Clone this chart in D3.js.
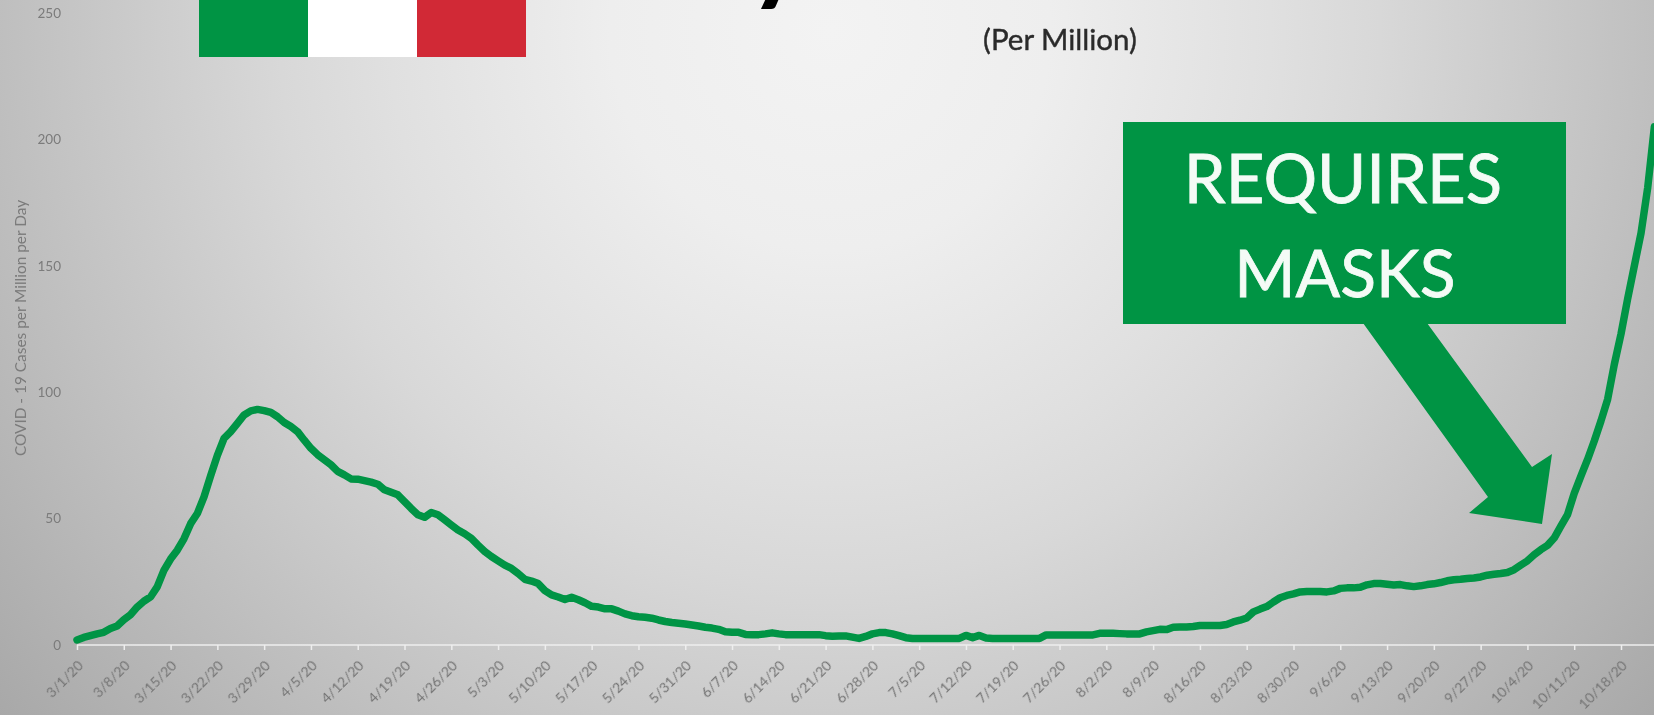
<!DOCTYPE html>
<html>
<head>
<meta charset="utf-8">
<script src="https://cdn.jsdelivr.net/npm/d3@7"></script>
<style>
  html, body { margin: 0; padding: 0; overflow: hidden; background: #ccc; }
  text { font-family: Lato, "Open Sans", sans-serif; }
</style>
</head>
<body>
<div id="chart"></div>
<script>
// tick labels, one every 7 days starting 3/1/20
var weekLabels = ["3/1/20","3/8/20","3/15/20","3/22/20","3/29/20","4/5/20","4/12/20","4/19/20","4/26/20",
  "5/3/20","5/10/20","5/17/20","5/24/20","5/31/20","6/7/20","6/14/20","6/21/20","6/28/20","7/5/20",
  "7/12/20","7/19/20","7/26/20","8/2/20","8/9/20","8/16/20","8/23/20","8/30/20","9/6/20","9/13/20",
  "9/20/20","9/27/20","10/4/20","10/11/20","10/18/20"]
var yTicks = [0, 50, 100, 150, 200, 250]

// daily cases per million
var marchValues = [2,3,3.7,4.4,5,6.5,7.5,10,12,15,17.3,19,23,29.5,34,37.5,42,48,52,58.6,67,75,81.7,84.4,87.7,91,92.6,93.2,92.7,92,90.3]
var aprilValues = [88,86.4,84.4,81,77.8,75.3,73.3,71.3,68.7,67.3,65.7,65.6,65,64.4,63.6,61.4,60.4,59.4,56.7,54,51.5,50.5,52.4,51.5,49.5,47.5,45.5,44,42.2,39.5]
var mayValues = [37,35,33.3,31.6,30.3,28.3,26,25.3,24.3,21.5,19.8,19,18,18.9,17.9,16.7,15.3,15,14.3,14.3,13.4,12.3,11.6,11.2,11,10.6,9.9,9.3,8.9,8.6,8.3]
var juneValues = [7.9,7.5,7,6.7,6.2,5.2,5,5,4.2,4.1,4.1,4.4,4.8,4.4,4.1,4.1,4.1,4.1,4.1,4.1,3.7,3.5,3.6,3.6,3.1,2.6,3.4,4.4,4.9,4.9]
var julyValues = [4.4,3.7,2.9,2.6,2.6,2.6,2.6,2.6,2.6,2.6,2.6,3.8,2.9,3.8,2.8,2.6,2.6,2.6,2.6,2.6,2.6,2.6,2.6,4,4,4,4,4,4,4,4]
var augustValues = [4.6,4.6,4.6,4.5,4.4,4.4,4.4,5.2,5.7,6.2,6.1,7,7.1,7.1,7.3,7.7,7.7,7.7,7.7,8.1,9.1,9.8,10.7,13.1,14.2,15.2,17,18.7,19.6,20.2,21]
var septemberValues = [21.2,21.2,21.2,21,21.4,22.4,22.6,22.6,22.8,23.8,24.3,24.3,24,23.7,23.9,23.4,23.1,23.4,23.9,24.2,24.7,25.4,25.8,26,26.3,26.5,26.9,27.6,28,28.3]
var octoberValues = [28.7,29.8,31.6,33.3,35.7,37.7,39.4,42.3,47,51.6,60,66.8,73.4,80.7,88.6,97.2,111,123,137,150,163,181,205]
var caseValues = [].concat(marchValues, aprilValues, mayValues, juneValues, julyValues, augustValues, septemberValues, octoberValues)

var width = 1654, height = 715
var green = "#009444"

var svg = d3.select("#chart").append("svg")
  .attr("width", width)
  .attr("height", height)
  .style("display", "block")

// slide background
var defs = svg.append("defs")
var grad = defs.append("radialGradient")
  .attr("id", "bg")
  .attr("gradientUnits", "userSpaceOnUse")
  .attr("cx", 830).attr("cy", 30).attr("r", 1100)
;[[0,"#f3f3f3"],[0.2,"#eeeeee"],[0.4,"#e0e0e0"],[0.5,"#d8d8d8"],[0.6,"#cecece"],[0.75,"#bfbfbf"],[1,"#a6a6a6"]].forEach(function(s){
  grad.append("stop").attr("offset", s[0]).attr("stop-color", s[1])
})
defs.append("filter").attr("id", "soft").append("feGaussianBlur").attr("stdDeviation", 0.45)

svg.append("rect").attr("width", width).attr("height", height).attr("fill", "url(#bg)")

var x = d3.scaleLinear().domain([0, 231]).range([77, 1621])
var y = d3.scaleLinear().domain([0, 250]).range([645, 13])

// Y axis
var yAxis = svg.append("g")
  .attr("transform", "translate(77,0)")
  .attr("filter", "url(#soft)")
  .call(d3.axisLeft(y).tickValues(yTicks).tickSize(0).tickPadding(16))
yAxis.select(".domain").remove()
yAxis.selectAll("text")
  .attr("fill", "#7b7b7b")
  .style("font-size", "13.5px")

// X axis
var xAxis = svg.append("g")
  .attr("transform", "translate(0,645)")
  .call(d3.axisBottom(x)
    .tickValues(weekLabels.map(function(d, i){ return i * 7 }))
    .tickFormat(function(d){ return weekLabels[d / 7] })
    .tickSize(5)
    .tickSizeOuter(0))
xAxis.select(".domain")
  .attr("d", "M77,0H1654")
  .attr("stroke", "#eeeeee")
  .attr("stroke-width", 1.5)
xAxis.selectAll("line").attr("stroke", "#eeeeee").attr("stroke-width", 1.5)
xAxis.selectAll("text")
  .attr("fill", "#747474")
  .attr("filter", "url(#soft)")
  .style("font-size", "14px")
  .attr("text-anchor", "end")
  .attr("transform", "translate(3,18) rotate(-45)")
  .attr("x", 0).attr("y", 0).attr("dy", "0.35em")

// Y axis title
svg.append("text")
  .attr("transform", "translate(26,328) rotate(-90)")
  .attr("text-anchor", "middle")
  .attr("fill", "#7b7b7b")
  .attr("filter", "url(#soft)")
  .style("font-size", "15.4px")
  .text("COVID - 19 Cases per Million per Day")

// case line
var line = d3.line()
  .x(function(d, i){ return x(i) })
  .y(function(d){ return y(d) })

svg.append("path")
  .datum(caseValues)
  .attr("d", line)
  .attr("fill", "none")
  .attr("stroke", green)
  .attr("stroke-width", 7.5)
  .attr("stroke-linejoin", "round")
  .attr("stroke-linecap", "round")
  .attr("filter", "url(#soft)")

// flag
var flagColors = [green, "#ffffff", "#d12936"]
svg.selectAll(".flag").data(flagColors).enter().append("rect")
  .attr("class", "flag")
  .attr("x", function(d, i){ return 199 + i * 109 })
  .attr("y", 0)
  .attr("width", 109)
  .attr("height", 57)
  .attr("fill", function(d){ return d })

// tail of the title, cut off by the top edge
svg.append("text")
  .attr("x", 750).attr("y", -8)
  .attr("font-weight", 900)
  .style("font-size", "100px")
  .attr("fill", "#000")
  .text("y")

svg.append("text")
  .attr("x", 1060).attr("y", 50)
  .attr("text-anchor", "middle")
  .attr("fill", "#2b2b2b")
  .attr("stroke", "#2b2b2b")
  .attr("stroke-width", 0.4)
  .attr("filter", "url(#soft)")
  .style("font-size", "29.5px")
  .text("(Per Million)")

// arrow and callout
svg.append("polygon")
  .attr("points", "1363,323 1427,323 1532,467 1552,454 1542,524 1469,513 1488,497")
  .attr("fill", green)
svg.append("rect")
  .attr("x", 1123).attr("y", 122)
  .attr("width", 443).attr("height", 202)
  .attr("fill", green)
svg.append("text")
  .attr("x", 1343).attr("y", 203)
  .attr("text-anchor", "middle")
  .attr("fill", "#f4fbf6")
  .attr("stroke", "#f4fbf6")
  .attr("stroke-width", 0.8)
  .style("font-size", "67px")
  .text("REQUIRES")
svg.append("text")
  .attr("x", 1345).attr("y", 297)
  .attr("text-anchor", "middle")
  .attr("fill", "#f4fbf6")
  .attr("stroke", "#f4fbf6")
  .attr("stroke-width", 0.8)
  .style("font-size", "66px")
  .text("MASKS")
</script>
</body>
</html>
